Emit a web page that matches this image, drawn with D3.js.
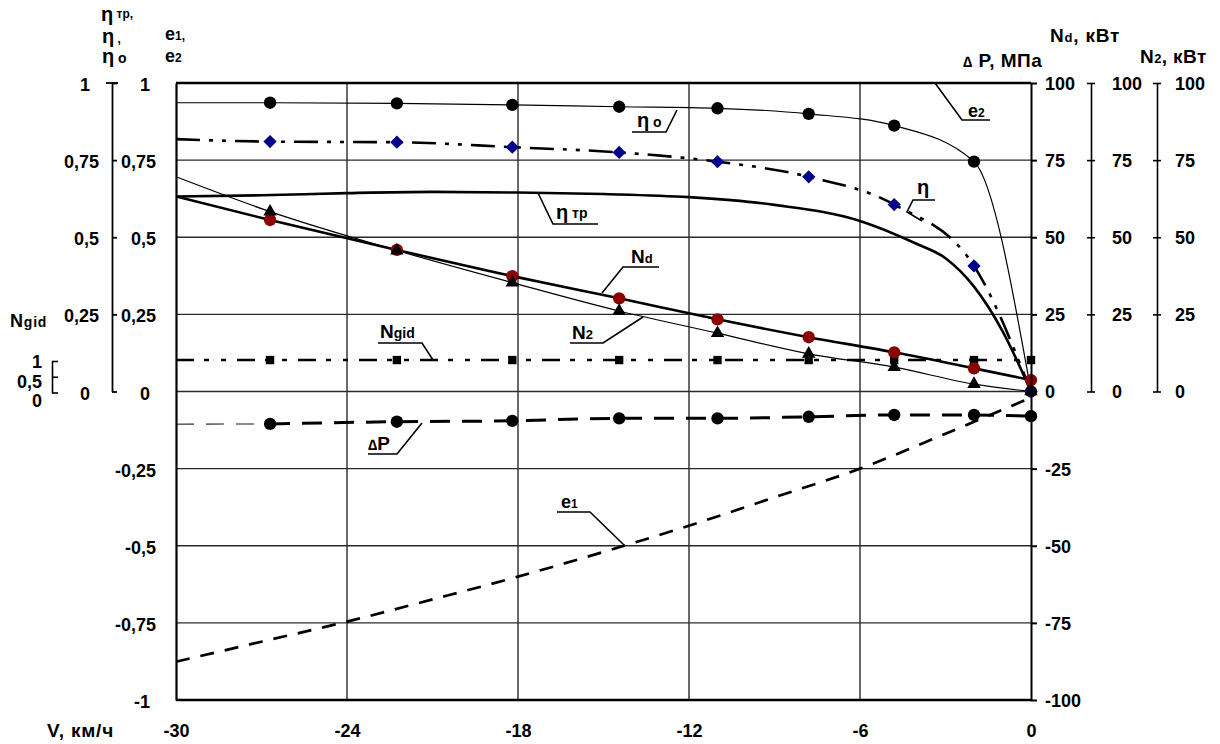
<!DOCTYPE html>
<html>
<head>
<meta charset="utf-8">
<script src="https://cdn.jsdelivr.net/npm/d3@7"></script>
<style>
  body { margin: 0; background: #fff; }
  svg text { font-family: "Liberation Sans", Arial, sans-serif; font-weight: bold; font-size: 18px; fill: #000; }
</style>
</head>
<body>
<svg id="chart" width="1220" height="744"></svg>
<script>
// Speed, km/h (the first entry starts the line, markers are drawn on the rest)
const speed = [-30, -26.7, -22.25, -18.2, -14.45, -11, -7.8, -4.8, -2.0, 0];
// Efficiencies
const etaO = [0.936, 0.936, 0.934, 0.929, 0.923, 0.918, 0.900, 0.862, 0.745, 0];
const eta  = [0.818, 0.810, 0.808, 0.792, 0.775, 0.745, 0.696, 0.606, 0.407, 0];
// Powers, kW, and pressure drop, MPa
const powerD  = [63.2, 55.6, 45.9, 37.4, 30.2, 23.4, 17.6, 12.7, 7.5, 3.7];
const power2  = [69.6, 58.3, 45.7, 35.3, 26.1, 18.9, 12.2, 7.9, 2.4, 0];
const deltaP  = [-10.6, -10.5, -9.8, -9.5, -8.7, -8.7, -8.2, -7.6, -7.6, -8.0];
const nGid    = [1.03, 1.03, 1.03, 1.03, 1.03, 1.03, 1.03, 1.03, 1.03, 1.03];
const e2      = [1, 1, 1, 1, 1, 1, 1, 1, 1, 1];

// Transmission efficiency (drawn without markers)
const speedTr = [-30, -27, -24, -21, -18, -15, -12, -9, -6, -4, -3, -2, -1, 0];
const etaTr   = [0.632, 0.636, 0.643, 0.647, 0.645, 0.640, 0.630, 0.605, 0.553, 0.478, 0.432, 0.340, 0.196, 0];

// Coefficient e1 (drawn without markers)
const speedE1 = [-30, -27, -24, -21, -18, -15, -12, -9, -6, -3, 0];
const e1      = [-0.876, -0.811, -0.746, -0.674, -0.600, -0.520, -0.435, -0.343, -0.250, -0.137, -0.020];

// Tick values
const speedTicks = [-30, -24, -18, -12, -6, 0];
const eTicks     = [-1, -0.75, -0.5, -0.25, 0, 0.25, 0.5, 0.75, 1];
const etaTicks   = [0, 0.25, 0.5, 0.75, 1];
const pTicks     = [-100, -75, -50, -25, 0, 25, 50, 75, 100];
const nTicks     = [0, 25, 50, 75, 100];
const gidTicks   = [0, 0.5, 1];

const svg = d3.select("#chart");
const x  = d3.scaleLinear().domain([-30, 0]).range([176, 1031]);
const yE = d3.scaleLinear().domain([-1, 1]).range([700, 83]);
const yEta = d3.scaleLinear().domain([0, 1]).range([yE(0), yE(1)]);
const yP = d3.scaleLinear().domain([-100, 100]).range([700, 83]);
const yN = d3.scaleLinear().domain([0, 100]).range([yP(0), yP(100)]);
const yG = d3.scaleLinear().domain([0, 1]).range([392.5, 361]);

const fmt = d => String(d).replace(".", ",");

// grid
const grid = svg.append("g").attr("stroke", "#2a2a2a").attr("stroke-width", 1.4);
grid.selectAll("line.h").data(eTicks.filter(t => t > -1 && t < 1)).join("line")
  .attr("x1", x(-30)).attr("x2", x(0)).attr("y1", d => yE(d)).attr("y2", d => yE(d));
grid.selectAll("line.v").data(speedTicks.filter(t => t > -30 && t < 0)).join("line")
  .attr("y1", yE(1)).attr("y2", yE(-1)).attr("x1", d => x(d)).attr("x2", d => x(d));

// series lines
const lineOf = (xs, ys, yScale) =>
  d3.line().x((d, i) => x(xs[i])).y(d => yScale(d)).curve(d3.curveMonotoneX)(ys);

const lines = svg.append("g").attr("fill", "none").attr("stroke", "#000");
lines.append("path").attr("d", lineOf(speedE1, e1, yE))
  .attr("stroke-width", 2.7).attr("stroke-dasharray", "14,11");
lines.append("path").attr("d", lineOf(speed, e2, yE)).attr("stroke-width", 2.6);
lines.append("path").attr("d", lineOf(speed, nGid, yG))
  .attr("stroke-width", 2.6).attr("stroke-dasharray", "18,10,5,12,5,11");
lines.append("path").attr("d", lineOf(speed.slice(0, 2), deltaP.slice(0, 2), yP))
  .attr("stroke", "#666").attr("stroke-width", 1.6).attr("stroke-dasharray", "18,12");
lines.append("path").attr("d", lineOf(speed.slice(1), deltaP.slice(1), yP))
  .attr("stroke-width", 3).attr("stroke-dasharray", "20,12");
lines.append("path").attr("d", lineOf(speed, etaO, yE)).attr("stroke-width", 1.2);
lines.append("path").attr("d", lineOf(speed, eta, yE))
  .attr("stroke-width", 2.6).attr("stroke-dasharray", "24,9,4,9,4,9");
lines.append("path").attr("d", lineOf(speedTr, etaTr, yE)).attr("stroke-width", 2.6);
lines.append("path").attr("d", lineOf(speed, powerD, yP)).attr("stroke-width", 2.6);
lines.append("path").attr("d", lineOf(speed, power2, yP)).attr("stroke-width", 1.2);

// markers
const pts = (ys, yScale) => speed.slice(1).map((v, i) => [x(v), yScale(ys[i + 1])]);
const marks = svg.append("g");
const sym = (data, type, size, fill, rot) =>
  marks.append("g").selectAll("path").data(data).join("path")
    .attr("d", d3.symbol().type(type).size(size))
    .attr("transform", d => `translate(${d[0]},${d[1]})` + (rot ? ` rotate(${rot})` : ""))
    .attr("fill", fill);

sym(pts(deltaP, yP), d3.symbolCircle, 120, "#000");
sym(pts(nGid, yG), d3.symbolSquare, 70, "#000");
sym(pts(etaO, yE), d3.symbolCircle, 120, "#000");
sym(pts(eta, yE), d3.symbolSquare, 88, "#00008b", 45);
sym(pts(powerD, yP), d3.symbolCircle, 120, "#8b0000");
sym(pts(power2, yP), d3.symbolTriangle, 78, "#000");

// frame
const frame = svg.append("g").attr("stroke", "#000").attr("stroke-width", 2.4);
frame.append("line").attr("x1", x(-30)).attr("x2", x(0)).attr("y1", yE(-1)).attr("y2", yE(-1));

// e-axis on plot's left edge
const eAxis = svg.append("g").attr("transform", `translate(${x(-30)},0)`)
  .call(d3.axisLeft(yE).tickValues(eTicks).tickFormat(fmt).tickSize(0).tickPadding(20));
eAxis.select(".domain").attr("stroke-width", 2.2);
eAxis.selectAll("text").attr("dy", "0.42em")
  .attr("x", d => Number.isInteger(d) ? -26 : -20);

// efficiency axis
const etaAxis = svg.append("g").attr("transform", "translate(112,0)")
  .call(d3.axisLeft(yEta).tickValues(etaTicks).tickFormat(fmt).tickSizeInner(-5).tickSizeOuter(0).tickPadding(13));
etaAxis.selectAll("line, path").attr("stroke-width", 1.8);
etaAxis.selectAll("text").attr("dy", "0.42em")
  .attr("x", d => Number.isInteger(d) ? -22 : -13);
etaAxis.append("line").attr("x1", -6).attr("x2", 6).attr("y1", yEta(1)).attr("y2", yEta(1))
  .attr("stroke", "#000").attr("stroke-width", 1.8);

// hydraulic power axis
const gidAxis = svg.append("g").attr("transform", "translate(52,0)")
  .call(d3.axisLeft(yG).tickValues(gidTicks).tickFormat(fmt).tickSizeInner(-6).tickSizeOuter(0).tickPadding(10));
gidAxis.selectAll("line, path").attr("stroke-width", 1.6);
gidAxis.selectAll("text").attr("dy", "0.36em")
  .attr("transform", d => `translate(0,${(1 - d) * 8})`);

// pressure axis on plot's right edge
const pAxis = svg.append("g").attr("transform", `translate(${x(0)},0)`)
  .call(d3.axisRight(yP).tickValues(pTicks).tickFormat(fmt).tickSize(6).tickSizeOuter(0).tickPadding(8));
pAxis.selectAll("line, path").attr("stroke-width", 2);
pAxis.selectAll("text").attr("dy", "0.36em");

// power axes
[[1091, 17], [1157, 14]].forEach(([px, pad]) => {
  const a = svg.append("g").attr("transform", `translate(${px},0)`)
    .call(d3.axisRight(yN).tickValues(nTicks).tickFormat(fmt).tickSize(4).tickSizeOuter(0).tickPadding(pad));
  a.selectAll("line, path").attr("stroke-width", 1.6);
  a.selectAll(".tick line").attr("x1", -4);
  a.selectAll("text").attr("dy", "0.36em");
});

// speed axis labels
const xAxis = svg.append("g").attr("transform", `translate(0,${yE(-1)})`)
  .call(d3.axisBottom(x).tickValues(speedTicks).tickFormat(fmt).tickSize(0).tickPadding(24));
xAxis.select(".domain").remove();

// text helper: parts = [string, size, baseline shift]
function label(g, x0, y0, parts, spacing) {
  const t = g.append("text").attr("x", x0).attr("y", y0);
  if (spacing) t.style("letter-spacing", spacing + "px");
  parts.forEach(([s, size, shift]) => {
    t.append("tspan").text(s).attr("y", y0 + (shift || 0))
      .style("font-size", (size || 18) + "px");
  });
  return t;
}

const titles = svg.append("g");
label(titles, 47, 737, [["V, км/ч", 19]], 0.8);
label(titles, 101, 21, [["η", 20], [" тр,", 12, -3]]);
label(titles, 102, 43, [["η", 20], [" ,", 12]]);
label(titles, 102, 63, [["η", 20], [" o", 14]]);
label(titles, 165, 40, [["e"], ["1", 12], [",", 12]]);
label(titles, 165, 62, [["e"], ["2", 12]]);
label(titles, 10, 327, [["N"], ["gid", 14]], 0.8);
label(titles, 1050, 42, [["N", 19], ["d", 13], [", кВт", 19]], 0.8);
label(titles, 963, 67, [["∆", 15], [" P, МПа", 19]], 0.5);
label(titles, 1140, 63, [["N", 19], ["2", 13], [", кВт", 19]], 0.4);

// callouts
const notes = [
  { at: [968, 117], parts: [["e"], ["2", 12]], path: [[935, 83], [962, 120], [990, 120]] },
  { at: [637, 127], parts: [["η", 20], [" o", 14]], path: [[632, 132], [666, 132], [677, 110]] },
  { at: [556, 219], parts: [["η", 20], [" тр", 14, -1]], path: [[538, 193], [553, 224], [598, 224]] },
  { at: [917, 194], parts: [["η", 20]], path: [[935, 200], [913, 200], [907, 212], [922, 221]] },
  { at: [631, 263], parts: [["N", 19], ["d", 13]], path: [[602, 293], [623, 267], [659, 267]] },
  { at: [572, 339], parts: [["N", 19], ["2", 13]], path: [[570, 343], [603, 343], [643, 317]] },
  { at: [380, 338], parts: [["N", 19], ["gid", 14]], path: [[378, 343], [422, 343], [433, 360]] },
  { at: [368, 450], parts: [["∆", 15], ["P", 19]], path: [[368, 454], [397, 454], [422, 423]] },
  { at: [561, 508], parts: [["e"], ["1", 12]], path: [[557, 512], [590, 512], [625, 546]] }
];
const ann = svg.append("g");
notes.forEach(n => {
  ann.append("path").attr("d", d3.line()(n.path))
    .attr("fill", "none").attr("stroke", "#000").attr("stroke-width", 1.6);
  label(ann, n.at[0], n.at[1], n.parts);
});
</script>
</body>
</html>
